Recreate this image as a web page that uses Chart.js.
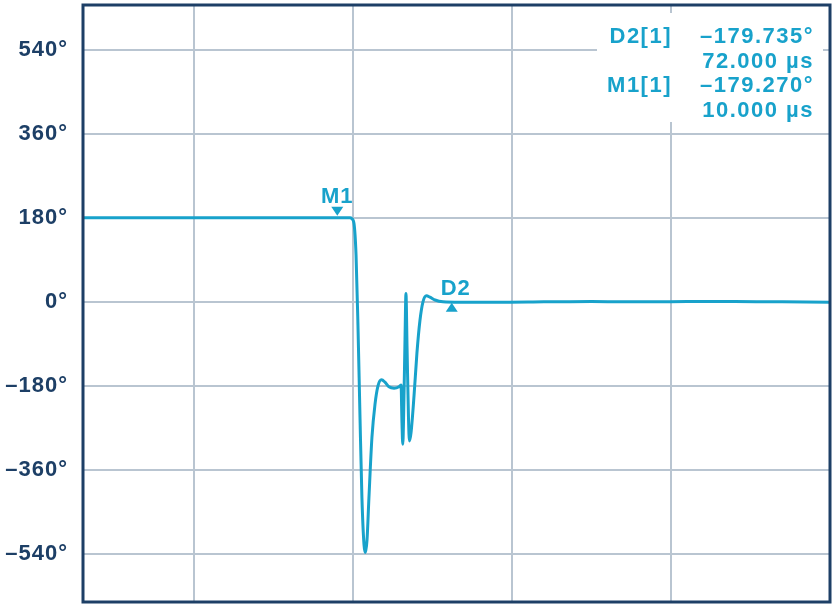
<!DOCTYPE html>
<html>
<head>
<meta charset="utf-8">
<script src="https://cdn.jsdelivr.net/npm/chart.js@4"></script>
<style>
  html, body { margin: 0; padding: 0; background: #fff; }
  #wrap { width: 837px; height: 608px; }
</style>
</head>
<body>
<div id="wrap"><canvas id="phase_chart"></canvas></div>
<script>
// time in µs, phase in degrees
const timeUs = [-150, -100, -50, 0, 10, 16, 18, 19.2, 20.5, 21.8, 23, 24.3, 25.5, 26.8, 27.7, 28.7, 29.9,
  31.8, 33.7, 35.6, 37.8, 40, 42.5, 45.7, 48.8, 50.1, 50.7, 51.2, 51.7, 52.6, 53.2, 53.9, 54.8, 55.4,
  56.4, 58.3, 60.1, 62, 63.9, 66.1, 68.3, 71.5, 76.5, 87, 110, 140, 170, 200, 230, 260, 290, 320];
const phaseDeg = [180, 180, 180, 180, 180, 180, 180, 178, 168, 100, -50, -250, -420, -520, -537, -510, -420,
  -290, -220, -180, -167, -172, -182, -185, -182, -178, -260, -305, -250, -80, 18, -100, -250, -298,
  -280, -200, -110, -40, 0, 13, 10, 4, 0, -1, -1, 0, 1, 0, 1, 1, 0, -1];
const yTicks = [-540, -360, -180, 0, 180, 360, 540];
const xGrid = [-80, 20, 120, 220, 320];

const markers = [
  { name: 'M1', t: 10, v: 180, dir: 'down' },
  { name: 'D2', t: 82, v: 0, dir: 'up' }
];
const readout = [
  ['D2[1]', '\u2013179.735°'],
  ['', '72.000 µs'],
  ['M1[1]', '\u2013179.270°'],
  ['', '10.000 µs']
];

const traceColor = '#18a2cb';
const navy = '#1d3f66';
const font = '"Liberation Sans", Arial, sans-serif';

const overlay = {
  id: 'overlay',
  beforeDraw(chart) {
    chart.ctx.letterSpacing = '1px';
  },
  afterDatasetsDraw(chart) {
    const c = chart.ctx, a = chart.chartArea;
    const xs = chart.scales.x, ys = chart.scales.y;
    c.save();
    c.letterSpacing = '1px';
    // markers
    c.fillStyle = traceColor;
    c.font = 'bold 22px ' + font;
    c.textAlign = 'center';
    c.textBaseline = 'alphabetic';
    markers.forEach(m => {
      const px = xs.getPixelForValue(m.t);
      const py = ys.getPixelForValue(m.v);
      c.beginPath();
      if (m.dir === 'down') {
        c.moveTo(px - 6, py - 11); c.lineTo(px + 6, py - 11); c.lineTo(px, py - 2);
        c.closePath(); c.fill();
        c.fillText(m.name, px, py - 15);
      } else {
        c.moveTo(px - 6, py + 10); c.lineTo(px + 6, py + 10); c.lineTo(px, py + 1);
        c.closePath(); c.fill();
        c.fillText(m.name, px + 4, py - 7);
      }
    });
    // readout box
    c.fillStyle = '#fff';
    c.fillRect(597, 13, 226, 109);
    c.fillStyle = traceColor;
    c.letterSpacing = '1.5px';
    c.textAlign = 'right';
    readout.forEach((r, i) => {
      const y = 43 + i * 24.7;
      if (r[0]) c.fillText(r[0], 672, y);
      c.fillText(r[1], 814, y);
    });
    // frame
    c.strokeStyle = navy;
    c.lineWidth = 3;
    c.strokeRect(a.left, a.top, a.right - a.left, a.bottom - a.top);
    c.restore();
  }
};

new Chart(document.getElementById('phase_chart'), {
  type: 'line',
  data: {
    labels: timeUs,
    datasets: [{
      data: timeUs.map((t, i) => ({ x: t, y: phaseDeg[i] })),
      borderColor: traceColor,
      borderWidth: 3,
      pointRadius: 0,
      cubicInterpolationMode: 'monotone',
      fill: false
    }]
  },
  options: {
    responsive: true,
    maintainAspectRatio: false,
    animation: false,
    events: [],
    layout: { padding: { top: 5, right: 7, bottom: 6, left: 0 } },
    plugins: { legend: { display: false }, tooltip: { enabled: false } },
    scales: {
      x: {
        type: 'linear',
        min: -150,
        max: 320,
        afterBuildTicks: s => { s.ticks = xGrid.map(v => ({ value: v })); },
        afterFit: s => { s.height = 0; s.paddingLeft = 0; s.paddingRight = 0; },
        ticks: { display: false },
        grid: { color: '#b9c5d1', lineWidth: 2, drawTicks: false },
        border: { display: false }
      },
      y: {
        min: -643,
        max: 636,
        afterBuildTicks: s => { s.ticks = yTicks.map(v => ({ value: v })); },
        afterFit: s => { s.width = 83; s.paddingTop = 0; s.paddingBottom = 0; },
        ticks: {
          color: navy,
          padding: 15,
          font: { family: font, size: 22, weight: 'bold' },
          callback: v => (v < 0 ? '\u2013' + Math.abs(v) : v) + '°'
        },
        grid: { color: '#b9c5d1', lineWidth: 2, drawTicks: false },
        border: { display: false }
      }
    }
  },
  plugins: [overlay]
});
</script>
</body>
</html>
